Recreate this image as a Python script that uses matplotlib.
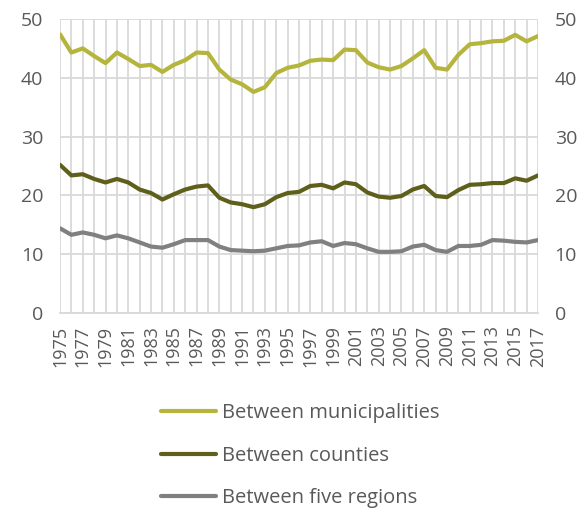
import numpy as np
import matplotlib.pyplot as plt

years = list(range(1975, 2018))

municipalities = [47.4, 44.3, 45.0, 43.7, 42.5, 44.3, 43.2, 42.0, 42.2, 41.0,
                  42.2, 43.0, 44.3, 44.2, 41.4, 39.7, 38.9, 37.6, 38.4, 40.8,
                  41.7, 42.1, 42.9, 43.1, 43.0, 44.8, 44.7, 42.6, 41.8, 41.4,
                  42.0, 43.3, 44.7, 41.7, 41.4, 43.9, 45.7, 45.9, 46.2, 46.3,
                  47.3, 46.2, 47.1]

counties = [25.2, 23.4, 23.6, 22.8, 22.2, 22.8, 22.2, 21.0, 20.4, 19.3,
            20.2, 21.0, 21.5, 21.7, 19.6, 18.8, 18.5, 18.0, 18.5, 19.7,
            20.4, 20.6, 21.6, 21.8, 21.2, 22.2, 21.9, 20.5, 19.8, 19.6,
            19.9, 21.0, 21.6, 19.9, 19.7, 20.9, 21.8, 21.9, 22.1, 22.1,
            22.9, 22.5, 23.4]

regions = [14.4, 13.3, 13.7, 13.3, 12.7, 13.2, 12.7, 12.0, 11.3, 11.1,
           11.7, 12.4, 12.4, 12.4, 11.3, 10.7, 10.6, 10.5, 10.6, 11.0,
           11.4, 11.5, 12.0, 12.2, 11.4, 11.9, 11.7, 11.0, 10.4, 10.4,
           10.5, 11.3, 11.6, 10.7, 10.4, 11.4, 11.4, 11.6, 12.4, 12.3,
           12.1, 12.0, 12.4]

labels = ["Between municipalities", "Between counties", "Between five regions"]
colors = ["#B5B43C", "#5F5F1C", "#808080"]

text_col = "#595959"
grid_col = "#D9D9D9"
plt.rcParams['font.family'] = ['Open Sans', 'DejaVu Sans']

fig = plt.figure(figsize=(5.88, 5.19), dpi=100)
ax = fig.add_axes([60 / 588, 1 - 313 / 519, (538 - 60) / 588, (313 - 19) / 519])

for vals, lab, col in zip([municipalities, counties, regions], labels, colors):
    ax.plot(years, vals, color=col, lw=3.0, label=lab, solid_capstyle='round')

ax.set_xlim(1975, 2017)
ax.set_ylim(0, 50)
ax.set_yticks(range(0, 51, 10))
ax.set_xticks(years, minor=True)
ax.set_xticks(years[::2])
ax.grid(True, which='both', color=grid_col, lw=1.3)
ax.set_axisbelow(True)
for s in ax.spines.values():
    s.set_visible(False)
ax.spines['bottom'].set_visible(True)
ax.spines['bottom'].set_color(grid_col)
ax.spines['bottom'].set_linewidth(1.3)
ax.tick_params(axis='both', which='both', length=0, colors=text_col)
ax.tick_params(axis='x', rotation=90, pad=9, labelsize=13)
ax.tick_params(axis='y', pad=12, labelsize=14)

ax2 = ax.twinx()
ax2.set_ylim(0, 50)
ax2.set_yticks(range(0, 51, 10))
for s in ax2.spines.values():
    s.set_visible(False)
ax2.tick_params(axis='y', length=0, colors=text_col, labelsize=14, pad=12)

# legend stacked under the plot
handles, labs = ax.get_legend_handles_labels()
fig.legend(handles, labs, loc='upper left', bbox_to_anchor=(143 / 588, 1 - 385 / 519),
           frameon=False, handlelength=2.7, handletextpad=0.3, labelspacing=1.12,
           fontsize=14.5, labelcolor=text_col)

fig.savefig("out.png", dpi=100)
